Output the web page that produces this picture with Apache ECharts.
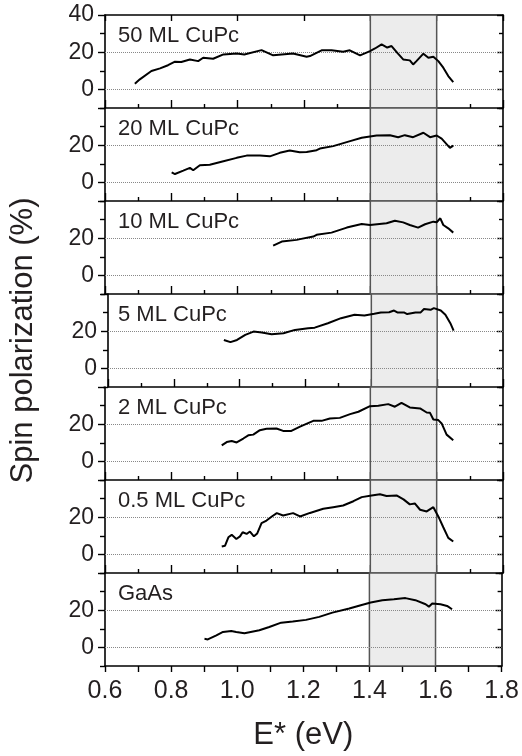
<!DOCTYPE html>
<html>
<head>
<meta charset="utf-8">
<script src="https://cdn.jsdelivr.net/npm/echarts@6/dist/echarts.min.js"></script>
<style>
  html, body { margin: 0; padding: 0; background: #fff; }
  #main { width: 522px; height: 756px; }
</style>
</head>
<body>
<div id="main"></div>
<script>
// panel labels, top to bottom
const panelLabels = ['50 ML CuPc', '20 ML CuPc', '10 ML CuPc', '5 ML CuPc', '2 ML CuPc', '0.5 ML CuPc', 'GaAs'];
const xTicks = [0.6, 0.8, 1.0, 1.2, 1.4, 1.6, 1.8];
const refLines = [0, 20];
const bandRange = [1.4, 1.6];

// 50 ML CuPc
const e50 = [0.69, 0.705, 0.74, 0.766, 0.79, 0.811, 0.83, 0.856, 0.881, 0.896, 0.926, 0.957, 0.997, 1.02, 1.072, 1.107, 1.167, 1.208, 1.218, 1.253, 1.283, 1.318, 1.338, 1.369, 1.399, 1.414, 1.434, 1.451, 1.464, 1.482, 1.499, 1.519, 1.529, 1.539, 1.56, 1.575, 1.59, 1.605, 1.62, 1.635, 1.65];
const p50 = [3.1, 5.4, 9.9, 11.3, 13, 14.9, 14.7, 16.1, 15.2, 17, 16.5, 18.8, 19.3, 18.8, 21.1, 18.3, 19.3, 17.6, 17.9, 21, 21.1, 20.2, 21, 18.3, 20.6, 22, 24.2, 22.5, 23.3, 19.5, 16.1, 15.6, 13.4, 15.2, 19.2, 17, 17.6, 15.2, 11.7, 7.2, 3.9];
// 20 ML CuPc
const e20 = [0.801, 0.811, 0.836, 0.856, 0.866, 0.886, 0.916, 0.957, 0.997, 1.027, 1.067, 1.097, 1.127, 1.157, 1.187, 1.208, 1.238, 1.248, 1.288, 1.339, 1.374, 1.419, 1.459, 1.484, 1.504, 1.529, 1.56, 1.58, 1.6, 1.615, 1.64, 1.65];
const p20 = [5.4, 4.5, 6.3, 7.8, 6.5, 9.2, 9.5, 11.4, 13.2, 14.4, 14.4, 14, 15.9, 17.1, 16.2, 16.4, 17.3, 18.2, 19.5, 22.2, 24, 25.2, 25.4, 24.3, 25.4, 24.3, 26.7, 24.3, 25.2, 23.5, 18.6, 19.8];
// 10 ML CuPc
const e10 = [1.107, 1.133, 1.178, 1.188, 1.228, 1.238, 1.283, 1.329, 1.374, 1.399, 1.449, 1.474, 1.499, 1.519, 1.544, 1.565, 1.59, 1.6, 1.611, 1.62, 1.635, 1.65];
const p10 = [16.0, 18.2, 19.1, 19.5, 20.9, 21.8, 23, 25.7, 27.6, 27.1, 28, 29.4, 28.5, 27.1, 25.7, 27.5, 28.9, 28.6, 30.7, 27.1, 25.3, 23];
// 5 ML CuPc
const e5 = [0.952, 0.972, 0.992, 1.017, 1.042, 1.067, 1.097, 1.133, 1.168, 1.208, 1.228, 1.268, 1.308, 1.349, 1.379, 1.409, 1.429, 1.454, 1.469, 1.479, 1.499, 1.509, 1.534, 1.55, 1.56, 1.58, 1.59, 1.611, 1.625, 1.64, 1.65];
const p5 = [15.3, 14.1, 15.3, 18, 19.8, 19.3, 18.4, 18.9, 20.7, 21.6, 21.9, 24.3, 27, 28.8, 28.5, 29.4, 30.1, 30.2, 31.1, 30.1, 30.1, 29.2, 30.1, 30.1, 31.9, 31.5, 32.4, 31.1, 28.8, 24.3, 20.3];
// 2 ML CuPc
const e2 = [0.952, 0.967, 0.982, 0.997, 1.017, 1.032, 1.047, 1.067, 1.087, 1.117, 1.137, 1.162, 1.188, 1.228, 1.253, 1.278, 1.308, 1.339, 1.364, 1.399, 1.424, 1.454, 1.474, 1.494, 1.519, 1.55, 1.57, 1.58, 1.59, 1.605, 1.615, 1.63, 1.65];
const p2 = [8.6, 10.4, 11, 10.2, 12.3, 14, 14.4, 16.8, 17.5, 17.7, 16.4, 16.4, 18.7, 21.8, 21.8, 23.1, 23.4, 25.4, 26.7, 29.7, 29.9, 30.8, 29.4, 31.5, 29, 28.5, 26.3, 26.1, 22.5, 22.2, 20.4, 14.4, 11.4];
// 0.5 ML CuPc
const e05 = [0.952, 0.962, 0.972, 0.982, 0.996, 1.007, 1.015, 1.027, 1.037, 1.049, 1.059, 1.072, 1.087, 1.103, 1.118, 1.137, 1.167, 1.188, 1.218, 1.258, 1.288, 1.318, 1.349, 1.374, 1.404, 1.429, 1.449, 1.479, 1.5, 1.519, 1.534, 1.55, 1.57, 1.59, 1.605, 1.62, 1.635, 1.65];
const p05 = [4.3, 4.7, 9.2, 10.5, 8.3, 9.7, 11.9, 11, 12.3, 9.7, 11.3, 16.8, 18.2, 20.4, 22.2, 20.9, 22.2, 20.4, 22.3, 24.5, 25.4, 26.3, 28.6, 30.8, 31.7, 32.3, 31.4, 31.7, 29.6, 26.9, 27.4, 24, 23.1, 25.4, 20.4, 14.6, 8.9, 6.9];
// GaAs
const eGa = [0.901, 0.911, 0.937, 0.957, 0.982, 0.997, 1.022, 1.067, 1.097, 1.133, 1.168, 1.208, 1.248, 1.288, 1.339, 1.374, 1.404, 1.439, 1.474, 1.509, 1.539, 1.57, 1.58, 1.59, 1.615, 1.635, 1.65];
const pGa = [4.6, 4.3, 6.5, 8.3, 8.8, 8.3, 7.6, 9.2, 11, 13.3, 13.9, 14.8, 16.4, 18.7, 20.9, 22.7, 24.1, 25.4, 25.9, 26.5, 25.4, 23.2, 21.9, 23.6, 23.2, 22.3, 20.5];

const energies = [e50, e20, e10, e5, e2, e05, eGa];
const polarizations = [p50, p20, p10, p5, p2, p05, pGa];

const font = '"Liberation Sans", Arial, sans-serif';
const ink = '#231f20';
const n = panelLabels.length;
const top0 = 15, panelH = 93, left = 105, width = 398;

const chart = echarts.init(document.getElementById('main'));

let grids = [], xAxes = [], yAxes = [], series = [], titles = [];

for (let i = 0; i < n; i++) {
  const last = i === n - 1;
  grids.push({ left: left, width: width, top: top0 + panelH * i, height: panelH });

  titles.push({
    text: panelLabels[i], left: 118, top: top0 + panelH * i + 10, padding: 0,
    textStyle: { fontFamily: font, fontSize: 22, fontWeight: 'normal', color: ink }
  });

  xAxes.push({
    gridIndex: i, type: 'value', min: 0.6, max: 1.8, interval: 0.2, position: 'bottom',
    axisLine: { show: true, onZero: false, lineStyle: { color: '#000', width: 1.6 } },
    axisTick: { show: true, inside: !last, length: last ? 6 : 8, lineStyle: { color: '#000', width: 1.4 } },
    minorTick: { show: true, splitNumber: 2, length: last ? 6 : 4, lineStyle: { color: '#000', width: 1.4 } },
    axisLabel: {
      show: last, fontFamily: font, fontSize: 25, color: ink, margin: 13,
      formatter: v => xTicks.some(t => Math.abs(t - v) < 1e-6) ? v.toFixed(1) : ''
    },
    splitLine: { show: false },
    name: last ? 'E* (eV)' : '', nameLocation: 'middle', nameGap: 54,
    nameTextStyle: { fontFamily: font, fontSize: 31, color: ink }
  });
  if (i === 0) {
    xAxes.push({
      gridIndex: i, type: 'value', min: 0.6, max: 1.8, interval: 0.2, position: 'top',
      axisLine: { show: true, onZero: false, lineStyle: { color: '#000', width: 1.6 } },
      axisTick: { show: true, inside: true, length: 6, lineStyle: { color: '#000', width: 1.4 } },
      axisLabel: { show: false }, splitLine: { show: false }
    });
  }

  const yBase = { gridIndex: i, type: 'value', min: -10, max: 40, interval: 10, splitLine: { show: false } };
  const major = [0, 20, 40], minor = [-10, 10, 30];
  const leftIdx = yAxes.length;
  yAxes.push(Object.assign({}, yBase, {
    position: 'left',
    axisLine: { show: true, onZero: false, lineStyle: { color: '#000', width: 1.6 } },
    axisTick: { show: true, customValues: major, length: 7, lineStyle: { color: '#000', width: 1.4 } },
    axisLabel: { show: true, customValues: i === 0 ? [0, 20, 40] : [0, 20], fontFamily: font, fontSize: 23, color: ink, margin: 11 },
    name: i === 3 ? 'Spin polarization (%)' : '', nameLocation: 'middle', nameGap: 69,
    nameTextStyle: { fontFamily: font, fontSize: 31, color: ink }
  }));
  yAxes.push(Object.assign({}, yBase, {
    position: 'left',
    axisLine: { show: false },
    axisTick: { show: true, customValues: minor, length: 5, lineStyle: { color: '#000', width: 1.4 } },
    axisLabel: { show: false }
  }));
  yAxes.push(Object.assign({}, yBase, {
    position: 'right',
    axisLine: { show: true, onZero: false, lineStyle: { color: '#000', width: 1.6 } },
    axisTick: { show: true, inside: true, customValues: major, length: 6, lineStyle: { color: '#000', width: 1.4 } },
    axisLabel: { show: false }
  }));
  yAxes.push(Object.assign({}, yBase, {
    position: 'right',
    axisLine: { show: false },
    axisTick: { show: true, inside: true, customValues: minor, length: 4, lineStyle: { color: '#000', width: 1.4 } },
    axisLabel: { show: false }
  }));

  const xIdx = i === 0 ? 0 : i + 1;
  series.push({
    type: 'line', xAxisIndex: xIdx, yAxisIndex: leftIdx,
    data: energies[i].map((e, k) => [e, polarizations[i][k]]),
    showSymbol: false, symbol: 'none', smooth: false, z: 5,
    lineStyle: { color: '#000', width: 2 },
    markLine: {
      silent: true, symbol: 'none', label: { show: false },
      lineStyle: { color: '#888', type: 'dotted', width: 1 },
      data: refLines.map(v => ({ yAxis: v }))
    },
    markArea: {
      silent: true,
      itemStyle: { color: '#ececec', borderColor: '#555', borderWidth: 1.5 },
      data: [[{ xAxis: bandRange[0] }, { xAxis: bandRange[1] }]]
    }
  });
}

chart.setOption({
  animation: false,
  backgroundColor: '#fff',
  title: titles,
  grid: grids,
  xAxis: xAxes,
  yAxis: yAxes,
  series: series
});
</script>
</body>
</html>
